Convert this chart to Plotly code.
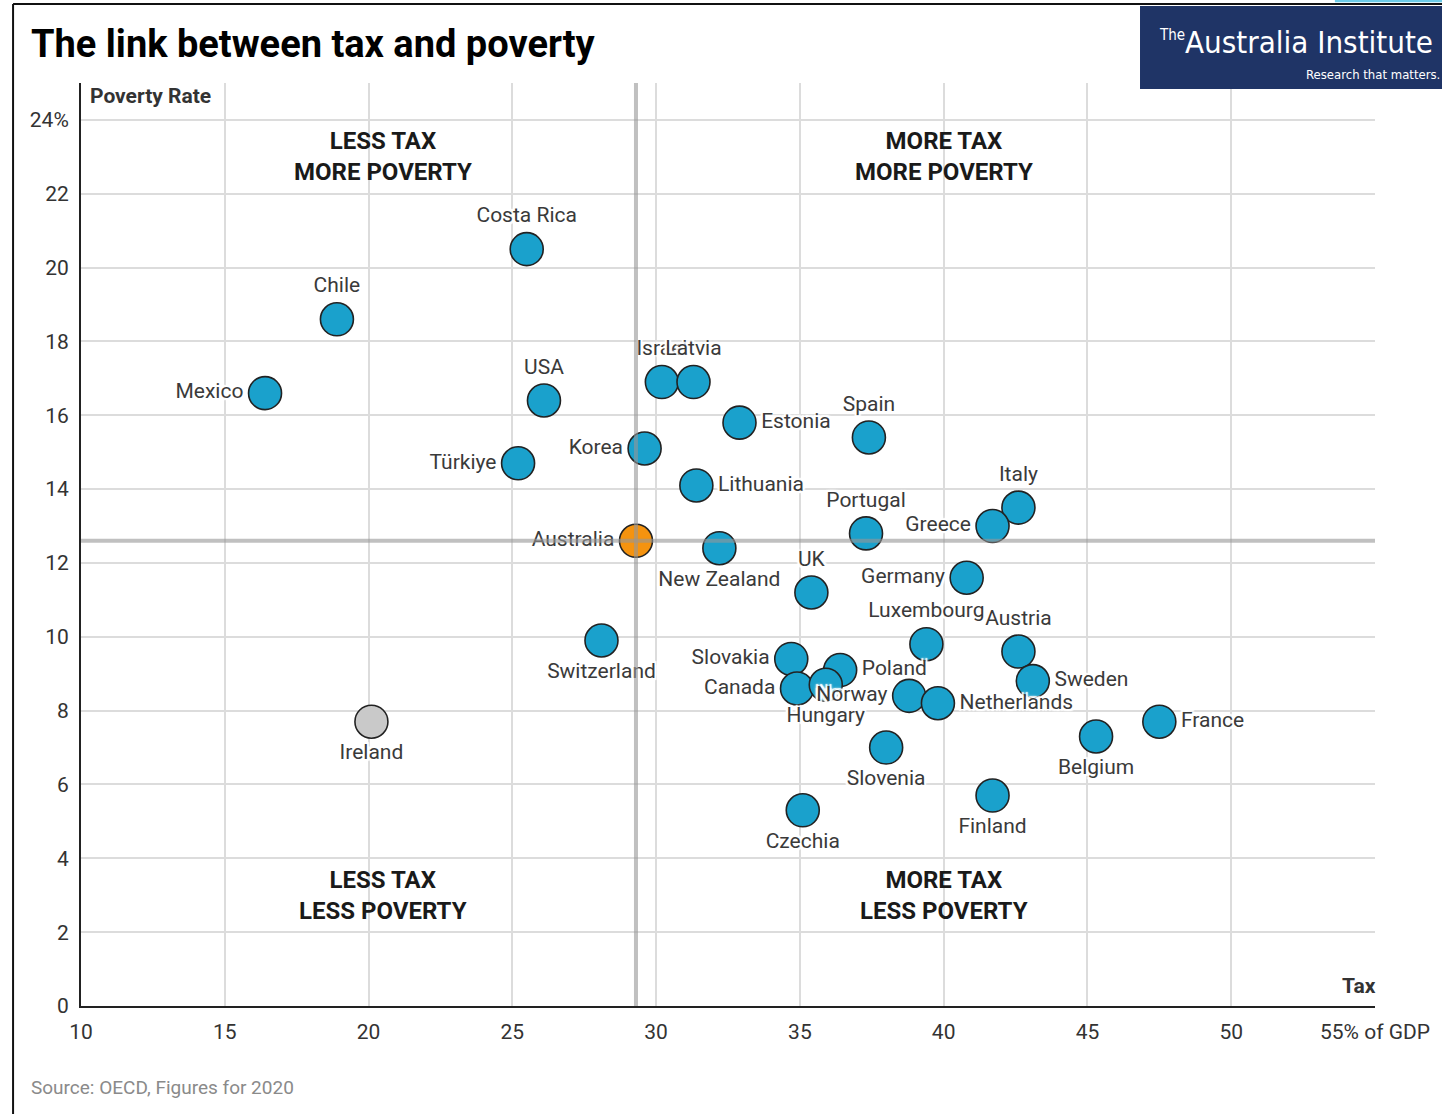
import plotly.graph_objects as go

# Tax revenue (% of GDP) and relative poverty rate (%), OECD, 2020
countries = [
    "Costa Rica", "Chile", "Mexico", "USA", "Israel", "Latvia", "Estonia",
    "Spain", "Korea", "Türkiye", "Lithuania", "Italy", "Portugal", "Greece",
    "New Zealand", "UK", "Germany", "Austria", "Luxembourg",
    "Switzerland", "Slovakia", "Poland", "Canada", "Hungary", "Norway",
    "Netherlands", "Sweden", "France", "Belgium", "Ireland", "Slovenia",
    "Finland", "Czechia", "Australia",
]
tax_pct_gdp = [
    25.5, 18.9, 16.4, 26.1, 30.2, 31.3, 32.9,
    37.4, 29.6, 25.2, 31.4, 42.6, 37.3, 41.7,
    32.2, 35.4, 40.8, 42.6, 39.4,
    28.1, 34.7, 36.4, 34.9, 35.9, 38.8,
    39.8, 43.1, 47.5, 45.3, 20.1, 38.0,
    41.7, 35.1, 29.3,
]
poverty_rate = [
    20.5, 18.6, 16.6, 16.4, 16.9, 16.9, 15.8,
    15.4, 15.1, 14.7, 14.1, 13.5, 12.8, 13.0,
    12.4, 11.2, 11.6, 9.6, 9.8,
    9.9, 9.4, 9.1, 8.6, 8.7, 8.4,
    8.2, 8.8, 7.7, 7.3, 7.7, 7.0,
    5.7, 5.3, 12.6,
]

x_ticks = [10, 15, 20, 25, 30, 35, 40, 45, 50, 55]
x_tick_labels = ["10", "15", "20", "25", "30", "35", "40", "45", "50", "55% of GDP"]
y_ticks = [0, 2, 4, 6, 8, 10, 12, 14, 16, 18, 20, 22, 24]
y_tick_labels = ["0", "2", "4", "6", "8", "10", "12", "14", "16", "18", "20", "22", "24%"]

# Australia's values split the chart into quadrants
aus_tax = tax_pct_gdp[countries.index("Australia")]
aus_poverty = poverty_rate[countries.index("Australia")]

label_side = {
    "Costa Rica": "top center", "Chile": "top center", "Mexico": "middle left",
    "USA": "top center", "Israel": "top center", "Latvia": "top center",
    "Estonia": "middle right", "Spain": "top center", "Korea": "middle left",
    "Türkiye": "middle left", "Lithuania": "middle right", "Italy": "top center",
    "Portugal": "top center", "Greece": "middle left", "Australia": "middle left",
    "New Zealand": "bottom center", "UK": "top center", "Germany": "middle left",
    "Luxembourg": "top center", "Austria": "top center",
    "Switzerland": "bottom center", "Slovakia": "middle left",
    "Poland": "middle right", "Canada": "middle left", "Hungary": "bottom center",
    "Norway": "middle left", "Netherlands": "middle right",
    "Sweden": "middle right", "France": "middle right",
    "Belgium": "bottom center", "Ireland": "bottom center",
    "Slovenia": "bottom center", "Finland": "bottom center",
    "Czechia": "bottom center",
}

BLUE = "#1aa1cc"
ORANGE = "#f5930f"
GREY = "#c9c9c9"
colors = [ORANGE if c == "Australia" else GREY if c == "Ireland" else BLUE
          for c in countries]

FONT = "Roboto, 'Noto Sans', sans-serif"
NARROW = "'Liberation Sans Narrow', 'DejaVu Sans Condensed', Roboto"
HALO = ("2px 2px 1px #fff, -2px -2px 1px #fff, 2px -2px 1px #fff, "
        "-2px 2px 1px #fff, 0 0 4px #fff, 0 0 4px #fff")

fig = go.Figure()
fig.add_trace(go.Scatter(
    x=tax_pct_gdp, y=poverty_rate, text=countries,
    mode="markers+text",
    textposition=[label_side[c] for c in countries],
    textfont=dict(family=FONT, size=21, color="#3a3a3a", shadow=HALO),
    marker=dict(size=33, color=colors, line=dict(color="#222", width=1.6)),
    cliponaxis=False, hoverinfo="text", showlegend=False,
))

# Australia reference lines, drawn over the markers
line_style = dict(color="rgba(150,150,150,0.6)", width=4)
fig.add_shape(type="line", xref="x", yref="paper", x0=aus_tax, x1=aus_tax,
              y0=0, y1=1, line=line_style, layer="above")
fig.add_shape(type="line", xref="paper", yref="y", x0=0, x1=1,
              y0=aus_poverty, y1=aus_poverty, line=line_style, layer="above")

# Card border and header badge
fig.add_shape(type="line", xref="paper", yref="paper",
              x0=-0.0525, x1=-0.0525, y0=-0.12, y1=1.0856,
              line=dict(color="#111", width=2))
fig.add_shape(type="line", xref="paper", yref="paper",
              x0=-0.0525, x1=1.06, y0=1.0856, y1=1.0856,
              line=dict(color="#111", width=2))
fig.add_shape(type="rect", xref="paper", yref="paper",
              x0=0.969, x1=1.06, y0=1.0875, y1=1.095,
              fillcolor="#6ccbe8", line=dict(width=0))
fig.add_shape(type="rect", xref="paper", yref="paper",
              x0=0.8184, x1=1.06, y0=0.9935, y1=1.0834,
              fillcolor="#1f3466", line=dict(width=0))

annotations = [
    dict(text="<b>The link between tax and poverty</b>", xref="paper", yref="paper",
         x=-0.0379, xshift=-3, y=1.0423, xanchor="left", yanchor="middle",
         showarrow=False, font=dict(family=FONT, size=38, color="#000")),
    dict(text="The", xref="paper", yref="paper", x=0.8315, y=1.0525,
         xanchor="left", yanchor="middle", showarrow=False,
         font=dict(family=NARROW, size=15, color="#fff")),
    dict(text="Australia Institute", xref="paper", yref="paper", x=0.8515, y=1.044,
         xanchor="left", yanchor="middle", showarrow=False,
         font=dict(family=NARROW, size=31, color="#fff")),
    dict(text="Research that matters.", xref="paper", yref="paper", x=1.052, y=1.0095,
         xanchor="right", yanchor="middle", showarrow=False,
         font=dict(family=NARROW, size=13, color="#fff")),
    dict(text="<b>Poverty Rate</b>", xref="paper", yref="y", x=0, xshift=7,
         y=24.65, xanchor="left", yanchor="middle", showarrow=False,
         font=dict(family=FONT, size=21, color="#333")),
    dict(text="<b>Tax</b>", xref="x", yref="y", x=55, xshift=3, y=0.54,
         xanchor="right", yanchor="middle", showarrow=False,
         font=dict(family=FONT, size=21, color="#333")),
    dict(text="Source: OECD, Figures for 2020", xref="paper", yref="paper",
         x=-0.0379, xshift=-3, y=-0.0878, xanchor="left", yanchor="middle",
         showarrow=False, font=dict(family=FONT, size=19, color="#8a8a8a")),
]
quadrants = [
    (20.5, 23.02, "LESS TAX<br>MORE POVERTY"),
    (40.0, 23.02, "MORE TAX<br>MORE POVERTY"),
    (20.5, 2.98, "LESS TAX<br>LESS POVERTY"),
    (40.0, 2.98, "MORE TAX<br>LESS POVERTY"),
]
for qx, qy, qtext in quadrants:
    annotations.append(dict(
        text=f"<b>{qtext}</b>", x=qx, y=qy, xref="x", yref="y",
        xanchor="center", yanchor="middle", showarrow=False,
        font=dict(family=FONT, size=24, color="#1a1a1a")))

fig.update_layout(
    width=1442, height=1114,
    margin=dict(l=81, r=67, t=83, b=108),
    paper_bgcolor="#fff", plot_bgcolor="#fff",
    annotations=annotations,
    xaxis=dict(range=[10, 55], tickvals=x_ticks, ticktext=x_tick_labels,
               showgrid=True, gridcolor="#dcdcdc", gridwidth=1.5,
               showline=True, linecolor="#222", linewidth=2,
               zeroline=False, ticks="", ticklabelstandoff=6,
               tickfont=dict(family=FONT, size=21, color="#333")),
    yaxis=dict(range=[0, 25], tickvals=y_ticks, ticktext=y_tick_labels,
               showgrid=True, gridcolor="#dcdcdc", gridwidth=1.5,
               showline=True, linecolor="#222", linewidth=2,
               zeroline=False, ticks="", ticklabelstandoff=6,
               tickfont=dict(family=FONT, size=21, color="#333")),
    font=dict(family=FONT),
)

fig.write_html("out.html")
